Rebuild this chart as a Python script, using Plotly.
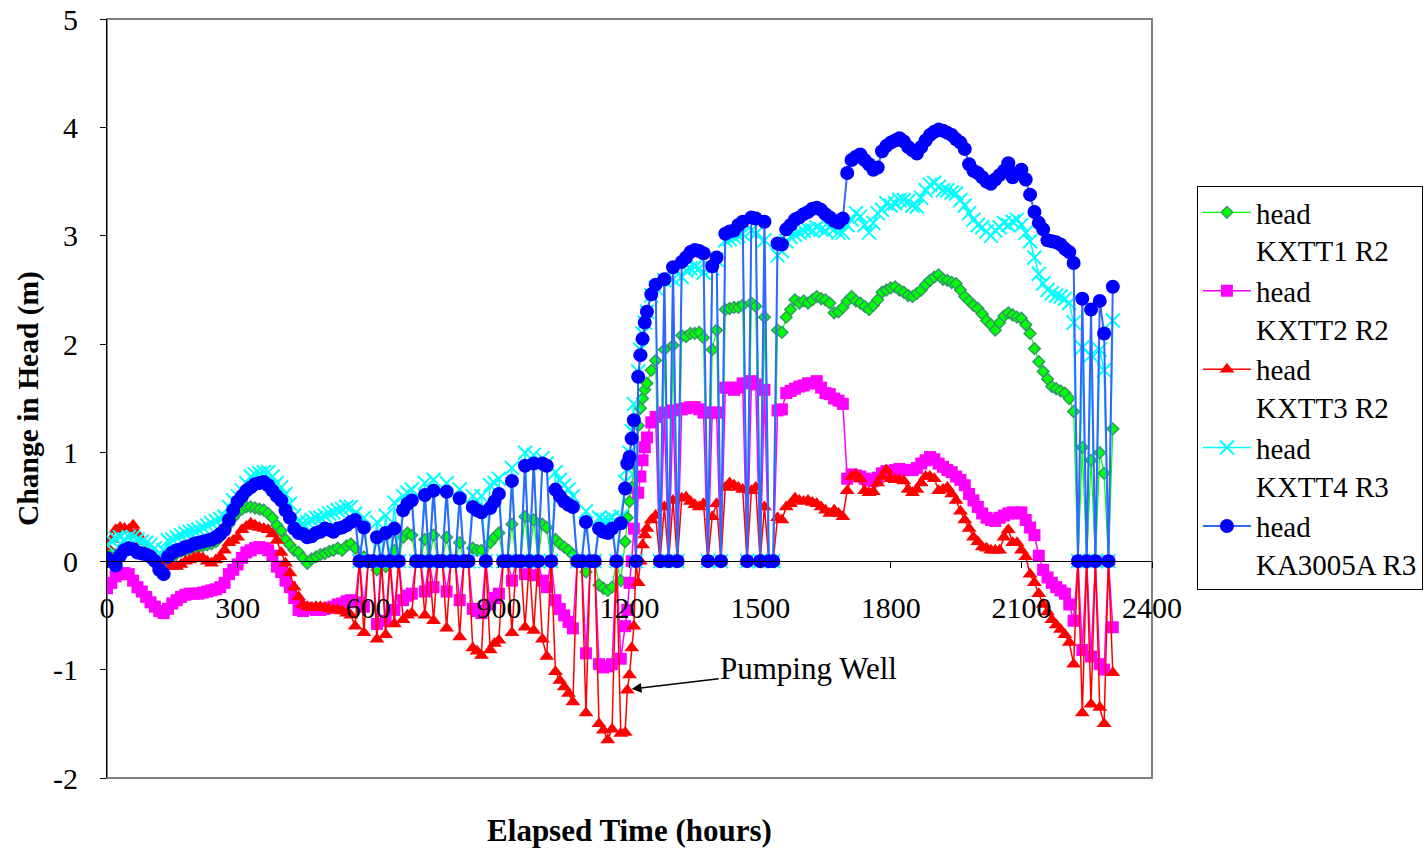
import plotly.graph_objects as go

# time grid (hours)
hours = list(range(0, 1200, 10)) + list(range(1195, 1245, 5)) + list(range(1250, 2320, 10))

kxtt1_r2 = [
    0.05, 0.08, 0.06, 0.08, 0.10, 0.11, 0.12, 0.10, 0.08, 0.07,
    0.05, 0.02, -0.04, -0.05, 0.00, 0.04, 0.07, 0.09, 0.10, 0.11,
    0.12, 0.13, 0.14, 0.15, 0.16, 0.18, 0.22, 0.28, 0.34, 0.40,
    0.45, 0.48, 0.50, 0.50, 0.49, 0.48, 0.47, 0.44, 0.40, 0.33,
    0.28, 0.20, 0.15, 0.10, 0.08, 0.03, -0.02, 0.02, 0.04, 0.06,
    0.07, 0.09, 0.10, 0.12, 0.10, 0.14, 0.16, 0.12, 0, 0.04,
    0, 0, -0.08, 0, -0.05, 0, 0.10, 0, 0.22, 0.26,
    0.24, 0, 0, 0.20, 0, 0.24, 0, 0, 0.22, 0,
    0, 0.17, 0, 0, 0.12, 0.10, 0.10, 0, 0.17, 0.22,
    0.26, 0, 0, 0.34, 0, 0, 0.41, 0, 0.38, 0,
    0.34, 0.31, 0, 0.20, 0.16, 0.13, 0.10, 0.06, 0, 0,
    -0.10, 0, 0, -0.22, -0.25, -0.27, -0.24, 0, -0.18, 0.18,
    0.40, 0.55, 0.68, 0.90, 0, 1.25, 1.41, 1.50, 1.58, 1.64,
    1.76, 1.85, 0, 1.95, 0, 1.99, 0, 2.08, 2.07, 2.10,
    2.10, 2.11, 2.06, 0, 1.95, 2.13, 0, 2.32, 2.33, 2.34,
    2.34, 2.36, 0, 2.38, 2.35, 0, 2.25, 0, 0, 2.13,
    2.11, 2.25, 2.32, 2.41, 2.38, 2.40, 2.38, 2.41, 2.44, 2.42,
    2.41, 2.38, 2.29, 2.30, 2.34, 2.40, 2.44, 2.40, 2.38, 2.35,
    2.32, 2.36, 2.41, 2.48, 2.50, 2.52, 2.53, 2.50, 2.48, 2.45,
    2.44, 2.47, 2.50, 2.55, 2.59, 2.62, 2.64, 2.60, 2.59, 2.57,
    2.56, 2.50, 2.44, 2.40, 2.36, 2.33, 2.28, 2.22, 2.18, 2.13,
    2.20, 2.26, 2.29, 2.27, 2.25, 2.24, 2.18, 2.10, 1.96, 1.84,
    1.75, 1.68, 1.61, 1.59, 1.57, 1.55, 1.50, 1.38, 0, 1.05,
    0, 0.93, 0, 1.00, 0.81, 0, 1.22,
]

kxtt2_r2 = [
    -0.25, -0.20, -0.14, -0.12, -0.11, -0.12, -0.18, -0.24, -0.28, -0.33,
    -0.38, -0.42, -0.46, -0.48, -0.44, -0.39, -0.36, -0.33, -0.31, -0.30,
    -0.30, -0.30, -0.29, -0.28, -0.27, -0.26, -0.24, -0.20, -0.12, -0.08,
    -0.03, 0.03, 0.08, 0.10, 0.12, 0.13, 0.12, 0.10, 0.05, -0.05,
    -0.10, -0.18, -0.24, -0.34, -0.45, -0.46, -0.43, -0.44, -0.45, -0.45,
    -0.44, -0.43, -0.42, -0.40, -0.39, -0.37, -0.36, -0.38, 0, -0.42,
    0, 0, -0.58, 0, -0.55, 0, -0.45, 0, -0.36, -0.32,
    -0.30, 0, 0, -0.28, 0, -0.24, 0, 0, -0.28, 0,
    0, -0.36, 0, 0, -0.44, -0.46, -0.48, 0, -0.40, -0.34,
    -0.30, 0, 0, -0.18, 0, 0, -0.12, 0, -0.13, 0,
    -0.18, -0.24, 0, -0.36, -0.44, -0.50, -0.56, -0.62, 0, 0,
    -0.85, 0, 0, -0.95, -0.98, -0.97, -0.95, 0, -0.90, -0.60,
    -0.45, -0.20, 0.00, 0.30, 0, 0.63, 0.78, 0.93, 1.05, 1.14,
    1.28, 1.33, 0, 1.37, 0, 1.39, 0, 1.40, 1.41, 1.42,
    1.42, 1.40, 1.37, 0, 1.37, 1.37, 0, 1.60, 1.60, 1.58,
    1.60, 1.64, 0, 1.66, 1.63, 0, 1.58, 0, 0, 1.39,
    1.40, 1.55, 1.57, 1.59, 1.61, 1.62, 1.64, 1.64, 1.66, 1.60,
    1.55, 1.54, 1.50, 1.48, 1.45, 0.76, 0.80, 0.79, 0.78, 0.76,
    0.75, 0.74, 0.77, 0.81, 0.83, 0.82, 0.84, 0.85, 0.84, 0.84,
    0.84, 0.86, 0.90, 0.93, 0.96, 0.94, 0.90, 0.87, 0.84, 0.82,
    0.78, 0.75, 0.70, 0.62, 0.56, 0.50, 0.44, 0.40, 0.38, 0.37,
    0.40, 0.42, 0.44, 0.45, 0.44, 0.45, 0.38, 0.31, 0.24, 0.05,
    -0.08, -0.15, -0.20, -0.24, -0.27, -0.30, -0.40, -0.55, 0, -0.82,
    0, -0.88, 0, -0.95, -1.00, 0, -0.61,
]

kxtt3_r2 = [
    0.13, 0.20, 0.29, 0.31, 0.30, 0.29, 0.33, 0.25, 0.18, 0.10,
    0.05, 0.01, -0.02, -0.04, -0.05, -0.05, -0.05, -0.03, 0.00, 0.01,
    0.03, 0.04, 0.03, 0.00, -0.02, 0.01, 0.04, 0.10, 0.17, 0.19,
    0.22, 0.29, 0.32, 0.35, 0.33, 0.31, 0.30, 0.29, 0.25, 0.19,
    0.08, -0.02, -0.11, -0.24, -0.33, -0.40, -0.42, -0.43, -0.42, -0.42,
    -0.43, -0.44, -0.45, -0.45, -0.46, -0.48, -0.50, -0.60, 0, -0.66,
    0, 0, -0.72, 0, -0.68, 0, -0.58, 0, -0.54, -0.50,
    -0.48, 0, 0, -0.50, 0, -0.55, 0, 0, -0.62, 0,
    0, -0.70, 0, 0, -0.80, -0.83, -0.87, 0, -0.82, -0.76,
    -0.73, 0, 0, -0.66, 0, 0, -0.61, 0, -0.64, 0,
    -0.72, -0.88, 0, -1.02, -1.10, -1.16, -1.22, -1.30, 0, 0,
    -1.40, 0, 0, -1.50, -1.56, -1.65, -1.55, 0, -1.59, -1.58,
    -1.19, -1.05, -0.80, -0.60, 0, -0.20, 0.00, 0.15, 0.24, 0.30,
    0.38, 0.42, 0, 0.50, 0, 0.56, 0, 0.58, 0.59, 0.55,
    0.52, 0.50, 0.53, 0, 0.41, 0.53, 0, 0.68, 0.72, 0.70,
    0.68, 0.66, 0, 0.65, 0.68, 0, 0.50, 0, 0, 0.40,
    0.38, 0.50, 0.53, 0.58, 0.56, 0.55, 0.56, 0.54, 0.53, 0.50,
    0.47, 0.44, 0.47, 0.44, 0.41, 0.65, 0.78, 0.80, 0.76, 0.65,
    0.63, 0.64, 0.72, 0.78, 0.84, 0.76, 0.75, 0.75, 0.74, 0.66,
    0.63, 0.66, 0.72, 0.78, 0.78, 0.76, 0.65, 0.66, 0.68, 0.62,
    0.56, 0.46, 0.38, 0.30, 0.22, 0.18, 0.13, 0.12, 0.10, 0.10,
    0.10, 0.22, 0.29, 0.17, 0.17, 0.10, 0.04, -0.12, -0.20, -0.30,
    -0.40, -0.47, -0.54, -0.59, -0.63, -0.68, -0.75, -0.95, 0, -1.40,
    0, -1.32, 0, -1.35, -1.50, 0, -1.03,
]

kxtt4_r3 = [
    0.15, 0.19, 0.21, 0.22, 0.20, 0.22, 0.22, 0.20, 0.18, 0.17,
    0.15, 0.12, 0.07, 0.10, 0.19, 0.20, 0.22, 0.24, 0.26, 0.27,
    0.28, 0.29, 0.31, 0.33, 0.35, 0.37, 0.39, 0.41, 0.50, 0.56,
    0.60, 0.65, 0.72, 0.78, 0.80, 0.81, 0.82, 0.82, 0.78, 0.72,
    0.68, 0.62, 0.53, 0.42, 0.36, 0.35, 0.36, 0.38, 0.40, 0.40,
    0.42, 0.44, 0.45, 0.47, 0.48, 0.50, 0.50, 0.44, 0, 0.40,
    0, 0, 0.36, 0, 0.42, 0, 0.54, 0, 0.60, 0.63,
    0.66, 0, 0, 0.72, 0, 0.75, 0, 0, 0.72, 0,
    0, 0.66, 0, 0, 0.60, 0.56, 0.60, 0, 0.70, 0.72,
    0.76, 0, 0, 0.86, 0, 0, 1.00, 0, 0.98, 0,
    0.95, 0.90, 0, 0.82, 0.75, 0.70, 0.66, 0.60, 0, 0,
    0.46, 0, 0, 0.40, 0.38, 0.38, 0.40, 0, 0.41, 0.73,
    0.85, 1.00, 1.20, 1.45, 0, 1.75, 1.95, 2.10, 2.20, 2.30,
    2.45, 2.52, 0, 2.59, 0, 2.60, 0, 2.62, 2.68, 2.70,
    2.71, 2.70, 2.66, 0, 2.70, 2.78, 0, 2.96, 2.97, 2.99,
    3.00, 3.02, 0, 3.05, 3.02, 0, 2.96, 0, 0, 2.82,
    2.86, 2.95, 2.99, 3.01, 3.03, 3.05, 3.06, 3.05, 3.08, 3.06,
    3.05, 3.08, 3.06, 3.03, 3.03, 3.10, 3.15, 3.21, 3.18, 3.10,
    3.03, 3.12, 3.21, 3.24, 3.30, 3.28, 3.30, 3.33, 3.33, 3.32,
    3.28, 3.27, 3.35, 3.42, 3.47, 3.49, 3.45, 3.42, 3.42, 3.40,
    3.39, 3.33, 3.28, 3.21, 3.15, 3.10, 3.08, 3.04, 3.00, 3.05,
    3.08, 3.12, 3.10, 3.13, 3.15, 3.10, 3.03, 2.95, 2.80, 2.65,
    2.56, 2.50, 2.47, 2.45, 2.44, 2.42, 2.38, 2.20, 0, 1.97,
    0, 1.90, 0, 1.95, 1.76, 0, 2.22,
]

ka3005a_r3 = [
    0.03, 0.00, -0.04, 0.05, 0.10, 0.12, 0.11, 0.08, 0.07, 0.06,
    0.04, 0.00, -0.08, -0.12, 0.04, 0.08, 0.10, 0.11, 0.13, 0.14,
    0.16, 0.17, 0.18, 0.19, 0.20, 0.22, 0.25, 0.29, 0.38, 0.47,
    0.55, 0.60, 0.65, 0.68, 0.71, 0.72, 0.73, 0.70, 0.65, 0.60,
    0.56, 0.47, 0.40, 0.30, 0.26, 0.25, 0.22, 0.23, 0.26, 0.27,
    0.30, 0.29, 0.27, 0.30, 0.31, 0.33, 0.36, 0.38, 0, 0.31,
    0, 0, 0.22, 0, 0.26, 0, 0.30, 0, 0.47, 0.53,
    0.56, 0, 0, 0.61, 0, 0.65, 0, 0, 0.64, 0,
    0, 0.58, 0, 0, 0.50, 0.47, 0.45, 0, 0.49, 0.55,
    0.62, 0, 0, 0.74, 0, 0, 0.88, 0, 0.90, 0,
    0.90, 0.88, 0, 0.66, 0.60, 0.55, 0.52, 0.50, 0, 0,
    0.36, 0, 0, 0.30, 0.27, 0.26, 0.30, 0, 0.35, 0.67,
    0.90, 0.96, 1.13, 1.30, 0, 1.70, 1.90, 2.05, 2.20, 2.30,
    2.46, 2.55, 0, 2.60, 0, 2.71, 0, 2.76, 2.80, 2.85,
    2.87, 2.86, 2.84, 0, 2.72, 2.80, 0, 3.02, 3.04, 3.05,
    3.10, 3.13, 0, 3.17, 3.16, 0, 3.13, 0, 0, 2.93,
    2.92, 3.06, 3.10, 3.15, 3.17, 3.20, 3.22, 3.25, 3.26, 3.24,
    3.20, 3.17, 3.14, 3.12, 3.16, 3.58, 3.70, 3.73, 3.75, 3.70,
    3.66, 3.61, 3.63, 3.78, 3.83, 3.86, 3.88, 3.90, 3.87, 3.82,
    3.79, 3.76, 3.82, 3.88, 3.93, 3.96, 3.98, 3.97, 3.95, 3.93,
    3.89, 3.86, 3.80, 3.66, 3.60, 3.58, 3.54, 3.50, 3.48, 3.52,
    3.56, 3.60, 3.67, 3.54, 3.58, 3.61, 3.52, 3.38, 3.22, 3.12,
    3.06, 2.96, 2.95, 2.94, 2.92, 2.88, 2.85, 2.75, 0, 2.42,
    0, 2.32, 0, 2.40, 2.10, 0, 2.53,
]

x_ticks = [0, 300, 600, 900, 1200, 1500, 1800, 2100, 2400]
y_ticks = [-2, -1, 0, 1, 2, 3, 4, 5]

FONT = "Liberation Serif"

series = [
    ("head<br>KXTT1 R2", kxtt1_r2, "#00FF00",
     dict(symbol="diamond", size=9, color="#00FF00", line=dict(color="#339966", width=1.5)), 1.2),
    ("head<br>KXTT2 R2", kxtt2_r2, "#FF00FF",
     dict(symbol="square", size=12, color="#FF00FF", line=dict(color="#FF00FF", width=0)), 1.5),
    ("head<br>KXTT3 R2", kxtt3_r2, "#FF0000",
     dict(symbol="triangle-up", size=13, color="#FF0000", line=dict(color="#FF0000", width=0)), 1.5),
    ("head<br>KXTT4 R3", kxtt4_r3, "#00FFFF",
     dict(symbol="x-thin-open", size=14, color="#00FFFF", line=dict(color="#00FFFF", width=2)), 1.5),
    ("head<br>KA3005A R3", ka3005a_r3, "#3366FF",
     dict(symbol="circle", size=14, color="#0000FF", line=dict(color="#0000FF", width=0)), 2),
]

fig = go.Figure()
for name, vals, lc, mk, lw in series:
    assert len(vals) == len(hours), (name, len(vals), len(hours))
    fig.add_trace(go.Scatter(
        x=hours, y=vals, name=name, mode="lines+markers",
        line=dict(color=lc, width=lw), marker=mk,
    ))

# empty trace to anchor the tick-label axis that crosses at y = 0
fig.add_trace(go.Scatter(x=[None], y=[None], xaxis="x2", showlegend=False, hoverinfo="skip"))

fig.update_layout(
    width=1426, height=848,
    margin=dict(l=107, r=274, t=19, b=70, autoexpand=False),
    paper_bgcolor="white", plot_bgcolor="white",
    font=dict(family=FONT, size=30, color="black"),
    showlegend=True,
    legend=dict(
        x=1.043, y=0.78, xanchor="left", yanchor="top",
        bgcolor="white", bordercolor="#000000", borderwidth=1,
        font=dict(family=FONT, size=29, color="black"),
        valign="top", itemwidth=48, tracegroupgap=0,
    ),
    xaxis=dict(
        range=[0, 2400], showticklabels=False, ticks="", showline=False,
        showgrid=False, zeroline=False, automargin=False,
        title=dict(text="<b>Elapsed Time (hours)</b>", standoff=42,
                   font=dict(family=FONT, size=31)),
    ),
    xaxis2=dict(
        overlaying="x", anchor="free", position=2 / 7, side="bottom",
        range=[0, 2400], tickmode="array", tickvals=x_ticks,
        ticktext=[str(v) for v in x_ticks],
        ticks="outside", ticklen=6, tickcolor="black", tickwidth=1,
        showline=True, linecolor="black", linewidth=1,
        showgrid=False, zeroline=False, ticklabelstandoff=14,
        tickfont=dict(family=FONT, size=30, color="black"),
        ticklabeloverflow="allow",
    ),
    yaxis=dict(
        range=[-2, 5], tickmode="array", tickvals=y_ticks,
        ticktext=[str(v) for v in y_ticks],
        ticks="outside", ticklen=6, tickcolor="black", tickwidth=1,
        showline=True, linecolor="black", linewidth=1,
        showgrid=False, zeroline=False, automargin=False,
        ticklabelstandoff=16, ticklabeloverflow="allow",
        tickfont=dict(family=FONT, size=30, color="black"),
        title=dict(text="<b>Change in Head (m)</b>", standoff=5,
                   font=dict(family=FONT, size=29.5)),
    ),
    shapes=[dict(type="rect", xref="paper", yref="paper", x0=0, y0=0, x1=1, y1=1,
                 line=dict(color="#808080", width=2), layer="below")],
    annotations=[dict(
        x=1205, y=-1.18, xref="x", yref="y", text="Pumping Well",
        showarrow=True, arrowhead=2, arrowsize=1.3, arrowwidth=1.5, arrowcolor="black",
        ax=177, ay=-21, font=dict(family=FONT, size=31, color="black"),
    )],
)

fig.write_html("out.html", config={"displayModeBar": False},
               post_script="document.body.style.margin='0px';")
